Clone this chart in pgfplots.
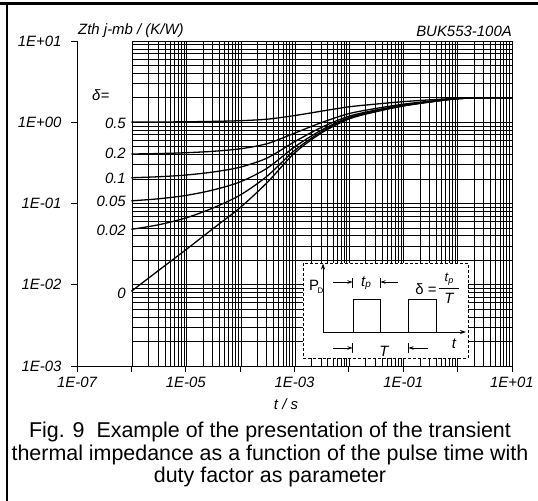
\documentclass[border=0pt]{standalone}
\usepackage{pgfplots}
\pgfplotsset{compat=1.18}
\usetikzlibrary{arrows.meta}
\usepackage{fontspec}
\setmainfont{Liberation Sans}
\begin{document}
\begin{tikzpicture}
\useasboundingbox (0,0) rectangle (538bp,-501bp);
\begin{scope}[x=1bp,y=-1bp]
 \draw[line width=2.5bp] (0,3.5) -- (538,3.5);
 \draw[line width=2.5bp] (7,3.5) -- (7,501);
\end{scope}
% grid
\begin{axis}[at={(132.4bp,-366bp)}, anchor=south west, scale only axis,
  width=379.6bp, height=325bp, xmode=log, ymode=log,
  xmin=1e-6, xmax=10, ymin=1e-3, ymax=10,
  xtick={1e-6,1e-5,1e-4,1e-3,1e-2,1e-1,1,10},
  ytick={1e-3,1e-2,1e-1,1,10},
  minor xtick={2e-6,3e-6,4e-6,5e-6,6e-6,7e-6,8e-6,9e-6,
   2e-5,3e-5,4e-5,5e-5,6e-5,7e-5,8e-5,9e-5,
   2e-4,3e-4,4e-4,5e-4,6e-4,7e-4,8e-4,9e-4,
   2e-3,3e-3,4e-3,5e-3,6e-3,7e-3,8e-3,9e-3,
   2e-2,3e-2,4e-2,5e-2,6e-2,7e-2,8e-2,9e-2,
   2e-1,3e-1,4e-1,5e-1,6e-1,7e-1,8e-1,9e-1,
   2,3,4,5,6,7,8,9},
  minor ytick={2e-3,3e-3,4e-3,5e-3,6e-3,7e-3,8e-3,9e-3,
   2e-2,3e-2,4e-2,5e-2,6e-2,7e-2,8e-2,9e-2,
   2e-1,3e-1,4e-1,5e-1,6e-1,7e-1,8e-1,9e-1,
   2,3,4,5,6,7,8,9},
  xticklabels={}, yticklabels={},
  grid=both,
  major grid style={black, line width=0.7bp},
  minor grid style={black, line width=0.7bp},
  axis line style={draw=none}, tick style={draw=none}]
\end{axis}
% main axis with curves
\begin{axis}[at={(77bp,-366bp)}, anchor=south west, scale only axis,
  width=435bp, height=325bp, xmode=log, ymode=log,
  xmin=1e-7, xmax=10, ymin=1e-3, ymax=10,
  axis x line*=bottom, axis y line*=left,
  axis line style={-, line width=0.8bp},
  xtick={1e-7,1e-6,1e-5,1e-4,1e-3,1e-2,1e-1,1,10},
  xticklabels={1E-07,,1E-05,,1E-03,,1E-01,,1E+01},
  ytick={1e-3,1e-2,1e-1,1,10},
  yticklabels={1E-03,1E-02,1E-01,1E+00,1E+01},
  tick align=outside, major tick length=6bp, minor tick length=0pt,
  tick style={black, line width=0.8bp},
  ticklabel style={font=\fontsize{15}{15}\selectfont\itshape},
  xticklabel style={yshift=-2bp},
  yticklabel style={xshift=-6bp},
  /pgf/number format/assume math mode=true]
% delta = 0.5
\addplot[black, line width=1.3bp, smooth] coordinates {(1e-6,1.004) (3.162e-6,1.0075) (1e-5,1.013) (3.162e-5,1.025) (1e-4,1.045) (3.162e-4,1.091) (1e-3,1.209) (3.162e-3,1.371) (1e-2,1.548) (3.162e-2,1.675) (1e-1,1.793) (3.162e-1,1.889) (1,1.975) (3.162,2.0) (10,2.0)};
% delta = 0.2
\addplot[black, line width=1.3bp, smooth] coordinates {(1e-6,0.4066) (3.162e-6,0.412) (1e-5,0.4215) (3.162e-5,0.439) (1e-4,0.471) (3.162e-4,0.546) (1e-3,0.734) (3.162e-3,0.993) (1e-2,1.277) (3.162e-2,1.479) (1e-1,1.668) (3.162e-1,1.822) (1,1.96) (3.162,2.0) (10,2.0)};
% delta = 0.1
\addplot[black, line width=1.3bp, smooth] coordinates {(1e-6,0.2075) (3.162e-6,0.2135) (1e-5,0.224) (3.162e-5,0.244) (1e-4,0.280) (3.162e-4,0.364) (1e-3,0.575) (3.162e-3,0.867) (1e-2,1.186) (3.162e-2,1.414) (1e-1,1.627) (3.162e-1,1.800) (1,1.955) (3.162,2.0) (10,2.0)};
% delta = 0.05
\addplot[black, line width=1.3bp, smooth] coordinates {(1e-6,0.1079) (3.162e-6,0.1143) (1e-5,0.1256) (3.162e-5,0.1466) (1e-4,0.1846) (3.162e-4,0.273) (1e-3,0.496) (3.162e-3,0.804) (1e-2,1.141) (3.162e-2,1.382) (1e-1,1.606) (3.162e-1,1.789) (1,1.952) (3.162,2.0) (10,2.0)};
% delta = 0.02
\addplot[black, line width=1.3bp, smooth] coordinates {(1e-6,0.0481) (3.162e-6,0.0547) (1e-5,0.0664) (3.162e-5,0.088) (1e-4,0.127) (3.162e-4,0.218) (1e-3,0.449) (3.162e-3,0.766) (1e-2,1.114) (3.162e-2,1.362) (1e-1,1.593) (3.162e-1,1.782) (1,1.951) (3.162,2.0) (10,2.0)};
% delta = 0
\addplot[black, line width=1.3bp, smooth] coordinates {(1e-6,0.0083) (3.162e-6,0.0150) (1e-5,0.0269) (3.162e-5,0.049) (1e-4,0.089) (3.162e-4,0.182) (1e-3,0.417) (3.162e-3,0.741) (1e-2,1.096) (3.162e-2,1.349) (1e-1,1.585) (3.162e-1,1.778) (1,1.95) (3.162,2.0) (10,2.0)};
\end{axis}
% texts and inset in pixel coordinates
\begin{scope}[x=1bp,y=-1bp, font=\fontsize{15}{15}\selectfont\itshape]
 \node[anchor=west, inner sep=0] at (78,31) {Zth j-mb / (K/W)};
 \node[anchor=east, inner sep=0] at (512,31) {BUK553-100A};
 \node[inner sep=0] at (286,404) {t / s};
 \node[anchor=west, inner sep=0] at (92,95) {δ=};
 \node[anchor=east, inner sep=0] at (126,123) {0.5};
 \node[anchor=east, inner sep=0] at (126,153) {0.2};
 \node[anchor=east, inner sep=0] at (126,178) {0.1};
 \node[anchor=east, inner sep=0] at (126,201) {0.05};
 \node[anchor=east, inner sep=0] at (126,230) {0.02};
 \node[anchor=east, inner sep=0] at (126,293) {0};
 % inset
 \draw[dashed, fill=white, line width=0.9bp, dash pattern=on 3bp off 2bp] (303,263) rectangle (468,358);
 \draw[line width=0.8bp, -{Stealth[length=6bp,width=4bp]}] (323,332) -- (323,263.5);
 \draw[line width=0.8bp, -{Stealth[length=6bp,width=4bp]}] (323,332) -- (466,332);
 \draw[line width=0.8bp] (353,332) -- (353,299) -- (380,299) -- (380,332);
 \draw[line width=0.8bp] (408,332) -- (408,299) -- (436,299) -- (436,332);
 \draw[line width=0.8bp, -{Stealth[length=5bp,width=3.5bp]}] (333,282) -- (352.5,282);
 \draw[line width=0.8bp] (352.5,278) -- (352.5,288);
 \draw[line width=0.8bp, -{Stealth[length=5bp,width=3.5bp]}] (398,282) -- (380.5,282);
 \draw[line width=0.8bp] (380.5,278) -- (380.5,288);
 \draw[line width=0.8bp, -{Stealth[length=5bp,width=3.5bp]}] (333,348) -- (352.5,348);
 \draw[line width=0.8bp] (352.5,343) -- (352.5,353);
 \draw[line width=0.8bp, -{Stealth[length=5bp,width=3.5bp]}] (428,348) -- (408.5,348);
 \draw[line width=0.8bp] (408.5,343) -- (408.5,353);
 \node[inner sep=0, font=\fontsize{15}{15}\selectfont\upshape] at (314,285) {P};
 \node[inner sep=0, font=\fontsize{8}{8}\selectfont\upshape] at (320.5,291) {D};
 \node[inner sep=0] at (366,283) {t\raisebox{-1.5bp}{\fontsize{10}{10}\selectfont p}};
 \node[inner sep=0, font=\fontsize{15}{15}\selectfont\upshape] at (426,289) {δ =};
 \node[inner sep=0, font=\fontsize{13}{13}\selectfont\itshape] at (449,279) {t\raisebox{-1.5bp}{\fontsize{9}{9}\selectfont p}};
 \draw[line width=0.8bp] (439,288.5) -- (459,288.5);
 \node[inner sep=0] at (449,298) {T};
 \node[inner sep=0] at (454,344) {t};
 \node[inner sep=0] at (384,351) {T};
 % caption
 \node[inner sep=0, font=\fontsize{21.5}{21.5}\selectfont\upshape] at (270,432) {Fig. 9\ \ Example of the presentation of the transient};
 \node[inner sep=0, font=\fontsize{21.5}{21.5}\selectfont\upshape] at (270,455) {thermal impedance as a function of the pulse time with};
 \node[inner sep=0, font=\fontsize{21.5}{21.5}\selectfont\upshape] at (270,477) {duty factor as parameter};
\end{scope}
\end{tikzpicture}
\end{document}
